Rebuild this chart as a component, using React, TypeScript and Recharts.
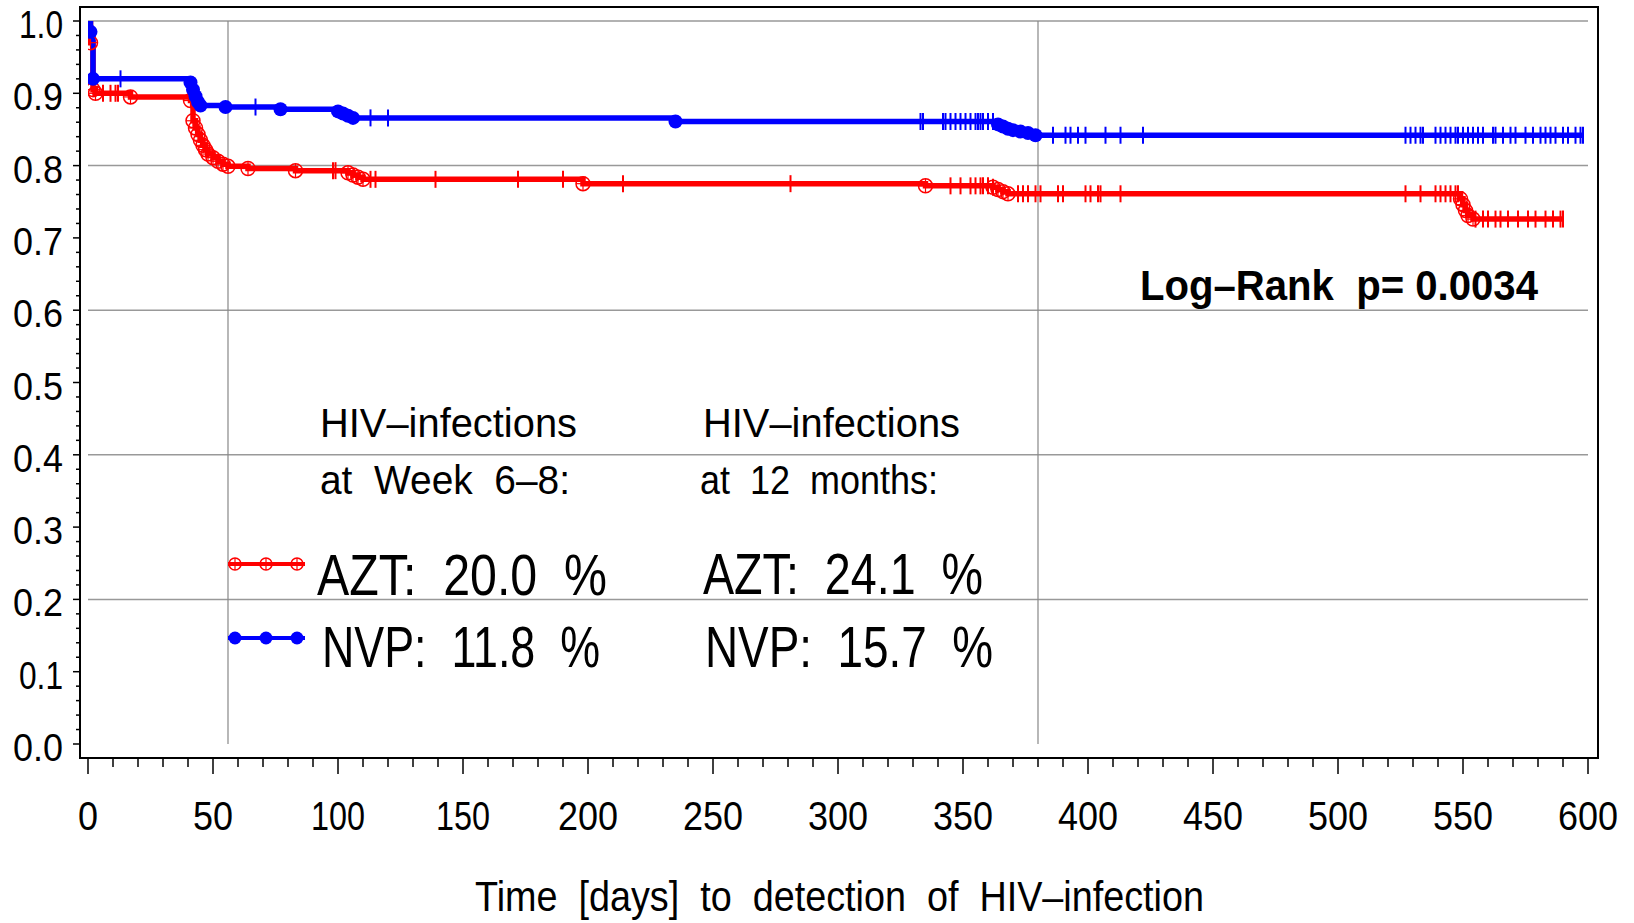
import React from "react"
import { ComposedChart, Line, Scatter, XAxis, YAxis, ReferenceLine } from "recharts"

// Kaplan-Meier steps, AZT arm (day of step, survival after step)
const aztDays = [0, 1, 2, 3, 17, 41, 42, 43, 44, 45, 46, 47, 48, 50, 52, 54, 56, 64, 83, 104, 106, 108, 110, 198, 335, 362, 364, 366, 368, 549, 550, 551, 552, 554]
const aztSurv = [1.0, 0.97, 0.905, 0.9, 0.895, 0.89, 0.862, 0.852, 0.843, 0.835, 0.828, 0.822, 0.816, 0.811, 0.806, 0.802, 0.799, 0.796, 0.793, 0.79, 0.787, 0.784, 0.781, 0.775, 0.772, 0.77, 0.767, 0.764, 0.761, 0.754, 0.746, 0.738, 0.731, 0.726]
const aztLastDay = 590
const aztCensored = [6, 9, 11, 12, 98, 99, 113, 115, 139, 172, 190, 214, 281, 345, 349, 353, 355, 357, 358, 360, 362, 372, 374, 376, 379, 381, 388, 390, 399, 401, 404, 405, 413, 527, 533, 539, 541, 543, 545, 547, 548, 555, 558, 560, 563, 565, 568, 572, 576, 579, 583, 586, 589, 590]

// NVP arm
const nvpDays = [0, 1, 2, 41, 42, 43, 44, 45, 55, 77, 100, 102, 104, 106, 235, 364, 366, 368, 370, 373, 376, 379]
const nvpSurv = [1.0, 0.985, 0.92, 0.915, 0.905, 0.896, 0.888, 0.883, 0.881, 0.878, 0.875, 0.872, 0.869, 0.866, 0.861, 0.857, 0.854, 0.851, 0.849, 0.847, 0.845, 0.842]
const nvpLastDay = 598
const nvpCensored = [0, 13, 67, 113, 120, 333, 334, 342, 343, 345, 347, 349, 351, 353, 355, 356, 357, 358, 360, 362, 386, 391, 393, 396, 399, 407, 413, 422, 527, 529, 531, 533, 534, 539, 541, 543, 545, 547, 548, 550, 552, 554, 556, 558, 562, 563, 566, 569, 571, 575, 578, 581, 583, 585, 587, 590, 592, 595, 597, 598]

const xLabels = [0, 50, 100, 150, 200, 250, 300, 350, 400, 450, 500, 550, 600]
const yLabels = [0, 0.1, 0.2, 0.3, 0.4, 0.5, 0.6, 0.7, 0.8, 0.9, 1.0]
const gridY = [0.2, 0.4, 0.6, 0.8, 1.0]
const refDays = [56, 380]

const FONT = "'Liberation Sans', Arial, Helvetica, sans-serif"
const RED = "#ff0000"
const BLUE = "#0000ff"

// minor ticks every 10 days / 0.02, labels only on the major ones above
const xTicks: number[] = []
for (let d = 0; d <= 600; d += 10) xTicks.push(d)
const yTicks: number[] = []
for (let i = 0; i <= 50; i++) yTicks.push(i / 50)

function stepLine(days: number[], surv: number[], last: number) {
  const pts = days.map((t, i) => ({ t, s: surv[i] }))
  pts.push({ t: last, s: surv[surv.length - 1] })
  return pts
}
function events(days: number[], surv: number[]) {
  return days.slice(1).map((t, i) => ({ t, s: surv[i + 1] }))
}
function survAt(days: number[], surv: number[], t: number) {
  let s = surv[0]
  for (let i = 0; i < days.length; i++) if (days[i] <= t) s = surv[i]
  return s
}
function censored(days: number[], surv: number[], times: number[]) {
  return times.map((t) => ({ t, s: survAt(days, surv, t) }))
}

const aztLine = stepLine(aztDays, aztSurv, aztLastDay)
const nvpLine = stepLine(nvpDays, nvpSurv, nvpLastDay)
const aztEvents = events(aztDays, aztSurv)
const nvpEvents = events(nvpDays, nvpSurv)
const aztCens = censored(aztDays, aztSurv, aztCensored)
const nvpCens = censored(nvpDays, nvpSurv, nvpCensored)

const numWidth = (s: string, digit: number, one: number, dot: number) =>
  s.split("").reduce((w, c) => w + (c === "1" ? one : c === "." ? dot : digit), 0)

const XTick = (props: any) => {
  const { x, y, payload } = props
  const v = payload.value
  const major = xLabels.includes(v)
  const label = String(v)
  return (
    <g>
      <line x1={x} x2={x} y1={y} y2={y + (major ? 16 : 9)} stroke="#000" strokeWidth={1.5} />
      {major && (
        <text x={x} y={y + 72} textAnchor="middle" fontSize={41} fontFamily={FONT} fill="#000"
          textLength={numWidth(label, 20, 14, 10)} lengthAdjust="spacingAndGlyphs">{label}</text>
      )}
    </g>
  )
}

const YTick = (props: any) => {
  const { x, y, payload } = props
  const v = payload.value
  const major = yLabels.some((l) => Math.abs(l - v) < 1e-6)
  const label = v.toFixed(1)
  return (
    <g>
      <line x1={x - (major ? 7 : 4)} x2={x} y1={y} y2={y} stroke="#000" strokeWidth={1.5} />
      {major && (
        <text x={x - 17} y={y + 17} textAnchor="end" fontSize={38} fontFamily={FONT} fill="#000"
          textLength={numWidth(label, 20, 14, 10)} lengthAdjust="spacingAndGlyphs">{label}</text>
      )}
    </g>
  )
}

const redMark = (p: any) => (
  <g>
    <circle cx={p.cx} cy={p.cy} r={7} fill="none" stroke={RED} strokeWidth={1.5} />
    <line x1={p.cx} x2={p.cx} y1={p.cy - 7} y2={p.cy + 7} stroke={RED} strokeWidth={1.2} />
    <line x1={p.cx - 7} x2={p.cx + 7} y1={p.cy} y2={p.cy} stroke={RED} strokeWidth={1.2} />
  </g>
)
const blueMark = (p: any) => <circle cx={p.cx} cy={p.cy} r={7} fill={BLUE} />
const censorMark = (color: string) => (p: any) => (
  <line x1={p.cx} x2={p.cx} y1={p.cy - 8.5} y2={p.cy + 8.5} stroke={color} strokeWidth={2} />
)

function Txt(p: { x: number; y: number; w: number; size: number; bold?: boolean; children: string }) {
  return (
    <text x={p.x} y={p.y} fontSize={p.size} fontWeight={p.bold ? 700 : 400} fontFamily={FONT} fill="#000"
      textLength={p.w} lengthAdjust="spacingAndGlyphs" style={{ whiteSpace: "pre" }}>{p.children}</text>
  )
}

export default function App() {
  return (
    <div style={{ position: "absolute", left: 0, top: 0, width: 1634, height: 923, background: "#fff" }}>
      <ComposedChart width={1634} height={923} margin={{ top: 7, right: 36, bottom: 105, left: 0 }}>
        <XAxis type="number" dataKey="t" domain={[0, 600]} ticks={xTicks} interval={0} allowDataOverflow
          padding={{ left: 8, right: 10 }} height={60} axisLine={false} tickLine={false}
          tickSize={0} tickMargin={0} tick={<XTick />} />
        <YAxis type="number" dataKey="s" domain={[0, 1]} ticks={yTicks} interval={0} allowDataOverflow
          padding={{ top: 14, bottom: 14 }} width={80} axisLine={false} tickLine={false}
          tickSize={0} tickMargin={0} tick={<YTick />} />
        {gridY.map((v) => (
          <ReferenceLine key={"g" + v} segment={[{ x: 0, y: v }, { x: 600, y: v }]} stroke="#999" strokeWidth={1.5} />
        ))}
        {refDays.map((d) => (
          <ReferenceLine key={"r" + d} segment={[{ x: d, y: 0 }, { x: d, y: 1 }]} stroke="#888" strokeWidth={1.2} />
        ))}
        <Line data={aztLine} dataKey="s" type="stepAfter" stroke={RED} strokeWidth={5.5} dot={false} activeDot={false} isAnimationActive={false} />
        <Scatter data={aztEvents} dataKey="s" shape={redMark} isAnimationActive={false} />
        <Scatter data={aztCens} dataKey="s" shape={censorMark(RED)} isAnimationActive={false} />
        <Line data={nvpLine} dataKey="s" type="stepAfter" stroke={BLUE} strokeWidth={5.5} dot={false} activeDot={false} isAnimationActive={false} />
        <Scatter data={nvpEvents} dataKey="s" shape={blueMark} isAnimationActive={false} />
        <Scatter data={nvpCens} dataKey="s" shape={censorMark(BLUE)} isAnimationActive={false} />
      </ComposedChart>
      <svg width={1634} height={923} style={{ position: "absolute", left: 0, top: 0, pointerEvents: "none" }}>
        <rect x={80} y={7} width={1518} height={751} fill="none" stroke="#000" strokeWidth={2} />
        <Txt x={1140} y={300} w={398} size={42} bold>{"Log–Rank  p= 0.0034"}</Txt>
        <Txt x={320} y={437} w={257} size={40}>{"HIV–infections"}</Txt>
        <Txt x={320} y={494} w={250} size={40}>{"at  Week  6–8:"}</Txt>
        <Txt x={703} y={437} w={257} size={40}>{"HIV–infections"}</Txt>
        <Txt x={700} y={494} w={238} size={40}>{"at  12  months:"}</Txt>
        <Txt x={317} y={595} w={290} size={58}>{"AZT:  20.0  %"}</Txt>
        <Txt x={322} y={667} w={278} size={58}>{"NVP:  11.8  %"}</Txt>
        <Txt x={703} y={594} w={280} size={58}>{"AZT:  24.1  %"}</Txt>
        <Txt x={705} y={667} w={288} size={58}>{"NVP:  15.7  %"}</Txt>
        <Txt x={475} y={911} w={729} size={42}>{"Time  [days]  to  detection  of  HIV–infection"}</Txt>
        <line x1={228} x2={305} y1={564} y2={564} stroke={RED} strokeWidth={4} />
        {[235, 266, 297].map((cx) => (
          <g key={"lr" + cx}>
            <circle cx={cx} cy={564} r={6} fill="none" stroke={RED} strokeWidth={1.5} />
            <line x1={cx} x2={cx} y1={558} y2={570} stroke={RED} strokeWidth={1.2} />
          </g>
        ))}
        <line x1={228} x2={305} y1={638} y2={638} stroke={BLUE} strokeWidth={4} />
        {[235, 266, 297].map((cx) => (
          <circle key={"lb" + cx} cx={cx} cy={638} r={6.5} fill={BLUE} />
        ))}
      </svg>
    </div>
  )
}
